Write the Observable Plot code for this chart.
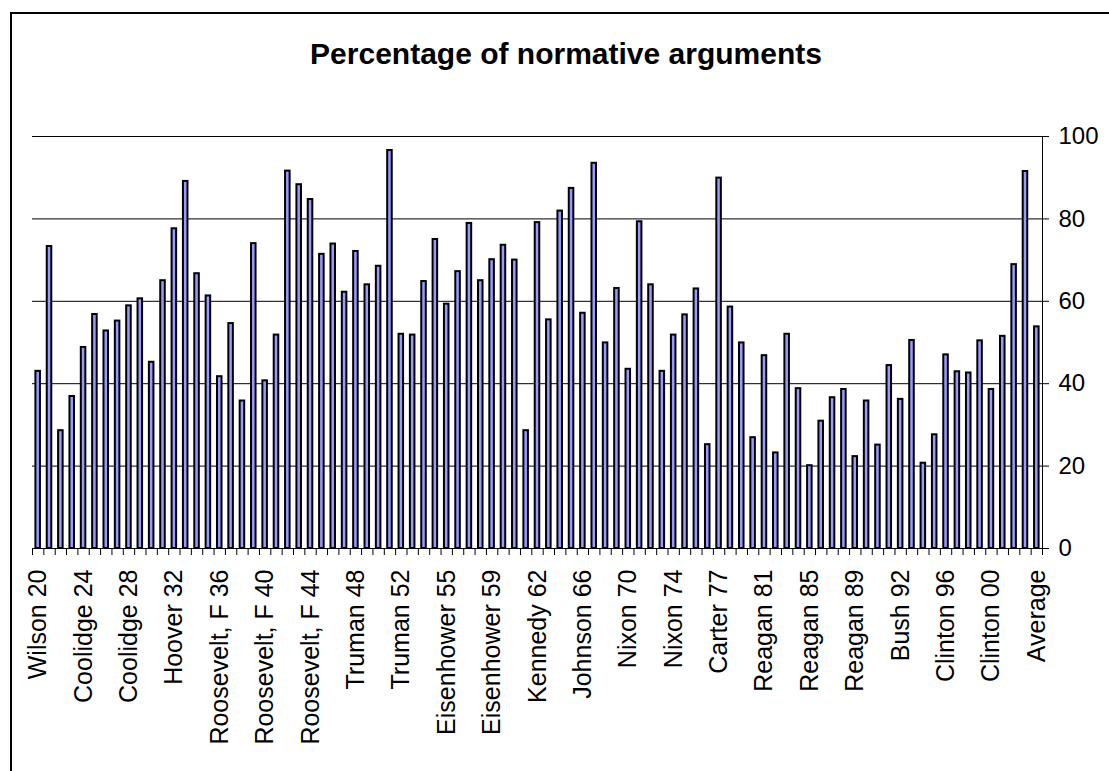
<!DOCTYPE html>
<html><head><meta charset="utf-8">
<script src="https://cdn.jsdelivr.net/npm/d3@7"></script>
<script src="https://cdn.jsdelivr.net/npm/@observablehq/plot@0.6"></script>
<style>
body{margin:0;background:#fff;}
#wrap{position:relative;width:1109px;height:771px;overflow:hidden;font-family:"Liberation Sans",Arial,sans-serif;background:#fff;}
#box{position:absolute;left:10px;top:12px;width:1200px;height:900px;border:2px solid #000;}
#title{position:absolute;left:0;width:1132px;top:39px;text-align:center;font-weight:bold;font-size:30px;line-height:30px;color:#000;}
#chart{position:absolute;left:0;top:0;}
</style></head><body>
<div id="wrap"><div id="box"></div><div id="title">Percentage of normative arguments</div><div id="chart"></div></div>
<script>
const categories = [
  "Wilson 20","Harding 21","Harding 22","Coolidge 23","Coolidge 24","Coolidge 25","Coolidge 26","Coolidge 27","Coolidge 28",
  "Hoover 29","Hoover 30","Hoover 31","Hoover 32",
  "Roosevelt, F 33","Roosevelt, F 34","Roosevelt, F 35","Roosevelt, F 36","Roosevelt, F 37","Roosevelt, F 38","Roosevelt, F 39",
  "Roosevelt, F 40","Roosevelt, F 41","Roosevelt, F 42","Roosevelt, F 43","Roosevelt, F 44","Roosevelt, F 45",
  "Truman 46","Truman 47","Truman 48","Truman 49","Truman 50","Truman 51","Truman 52","Truman 53",
  "Eisenhower 53","Eisenhower 54","Eisenhower 55","Eisenhower 56","Eisenhower 57","Eisenhower 58","Eisenhower 59","Eisenhower 60","Eisenhower 61",
  "Kennedy 61","Kennedy 62","Kennedy 63",
  "Johnson 64","Johnson 65","Johnson 66","Johnson 67","Johnson 68","Johnson 69",
  "Nixon 70","Nixon 71","Nixon 72","Nixon 73","Nixon 74",
  "Ford 75","Ford 76","Ford 77",
  "Carter 77","Carter 78","Carter 79","Carter 80",
  "Reagan 81","Reagan 82","Reagan 83","Reagan 84","Reagan 85","Reagan 86","Reagan 87","Reagan 88","Reagan 89",
  "Bush 89","Bush 90","Bush 91","Bush 92",
  "Clinton 93","Clinton 94","Clinton 95","Clinton 96","Clinton 97","Clinton 98","Clinton 99","Clinton 00",
  "Bush 01","Bush 02","Bush 03","Average"
];
const values = [
  43.0, 73.3, 28.6, 36.9, 48.8, 56.8, 52.8, 55.2, 58.9, 60.6,
  45.2, 65.0, 77.6, 89.1, 66.7, 61.3, 41.7, 54.6, 35.8, 74.0,
  40.7, 51.8, 91.6, 88.3, 84.7, 71.4, 73.9, 62.2, 72.1, 64.0,
  68.5, 96.6, 52.0, 51.8, 64.8, 75.0, 59.3, 67.2, 78.9, 65.0,
  70.1, 73.6, 70.0, 28.6, 79.1, 55.5, 81.9, 87.4, 57.1, 93.5,
  49.9, 63.1, 43.5, 79.3, 64.0, 43.0, 51.8, 56.7, 63.0, 25.2,
  89.9, 58.6, 49.9, 26.9, 46.8, 23.2, 52.0, 38.8, 20.1, 30.9,
  36.6, 38.6, 22.3, 35.8, 25.1, 44.4, 36.2, 50.5, 20.7, 27.6,
  47.0, 42.9, 42.6, 50.4, 38.6, 51.5, 68.9, 91.5, 53.8
];
const shownLabels = [
  "Wilson 20","Coolidge 24","Coolidge 28","Hoover 32","Roosevelt, F 36","Roosevelt, F 40","Roosevelt, F 44",
  "Truman 48","Truman 52","Eisenhower 55","Eisenhower 59","Kennedy 62","Johnson 66","Nixon 70","Nixon 74",
  "Carter 77","Reagan 81","Reagan 85","Reagan 89","Bush 92","Clinton 96","Clinton 00","Average"
];
const yTicks = [0, 20, 40, 60, 80, 100];

const data = categories.map((c, i) => ({category: c, value: values[i]}));
const W = 1109, H = 771, mL = 32, mR = 67, mT = 136, mB = 223;
const half = (W - mL - mR) / categories.length / 2;
const font = '"Liberation Sans", Arial, sans-serif';

const plot = Plot.plot({
  width: W, height: H,
  marginLeft: mL, marginRight: mR, marginTop: mT, marginBottom: mB,
  style: {fontFamily: font, background: "transparent", overflow: "visible", color: "#000"},
  x: {type: "band", domain: categories, paddingInner: 0.6, paddingOuter: 0.3, axis: null, label: null},
  y: {domain: [0, 100], axis: null, label: null},
  marks: [
    Plot.gridY(yTicks, {stroke: "#000", strokeOpacity: 1, strokeWidth: 1}),
    Plot.frame({anchor: "right", stroke: "#000"}),
    Plot.barY(data, {x: "category", y: "value", fill: "#9999ff", stroke: "#000", strokeWidth: 2}),
    Plot.axisY(yTicks, {anchor: "right", label: null, tickSize: 6, tickPadding: 10, fontSize: 24, stroke: "#000", fill: "#000", tickFormat: d => d}),
    Plot.axisX(categories, {anchor: "bottom", label: null, tickSize: 7, dx: -half, stroke: "#000", tickFormat: () => ""}),
    Plot.axisX([categories[categories.length - 1]], {anchor: "bottom", label: null, tickSize: 7, dx: half, stroke: "#000", tickFormat: () => ""}),
    Plot.axisX(shownLabels, {anchor: "bottom", label: null, tickSize: 0, tickPadding: 21, tickRotate: -90, fontSize: 25, fill: "#000", tickFormat: d => d})
  ]
});
document.getElementById("chart").appendChild(plot);
</script>
</body></html>
